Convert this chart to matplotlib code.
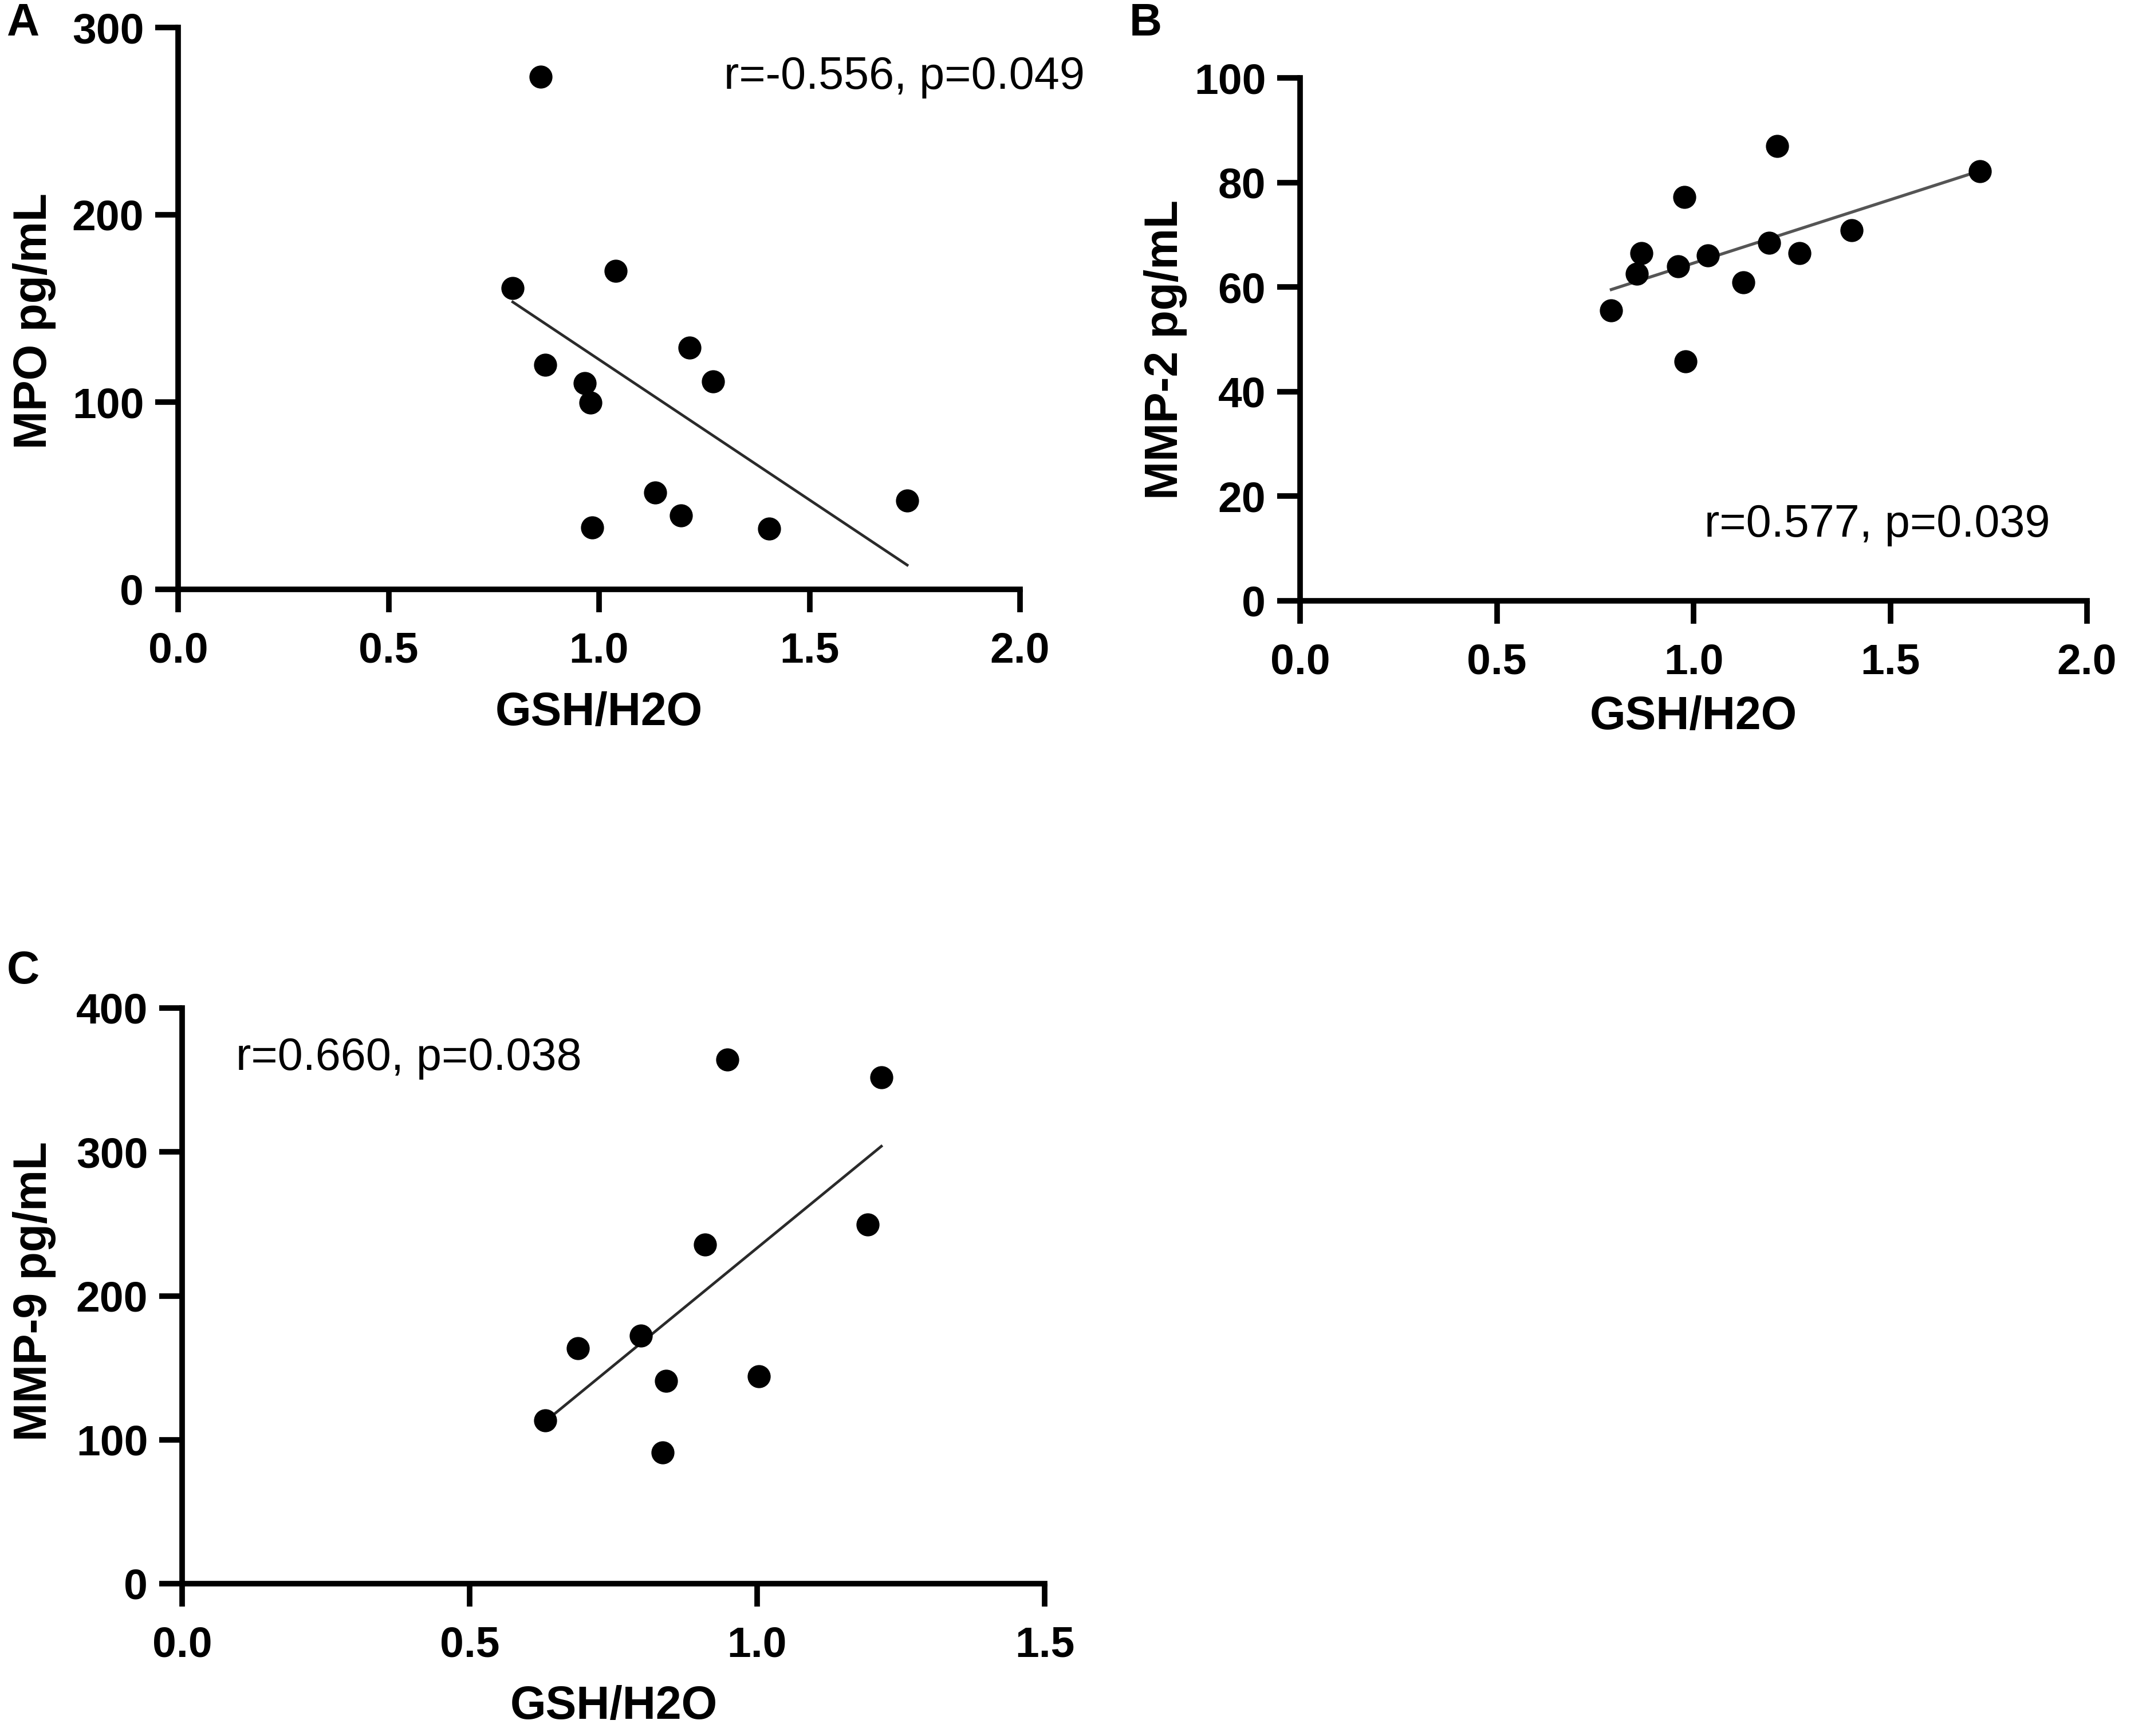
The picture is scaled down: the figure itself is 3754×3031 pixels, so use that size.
import numpy as np
import matplotlib
matplotlib.use("Agg")
import matplotlib.pyplot as plt

plt.rcParams['font.family'] = ['Liberation Sans', 'DejaVu Sans']

# Panel A: MPO vs GSH/H2O
a_x = [0.861, 0.795, 1.040, 0.872, 1.215, 1.271, 0.966, 0.979, 1.133, 1.195, 0.983, 1.404, 1.732]
a_y = [273.8, 161.0, 170.0, 120.0, 129.0, 111.0, 110.0, 99.7, 51.6, 39.4, 33.0, 32.3, 47.5]
# Panel B: MMP-2 vs GSH/H2O
b_x = [0.791, 0.856, 0.868, 0.960, 0.977, 0.980, 1.037, 1.126, 1.192, 1.212, 1.269, 1.402, 1.728]
b_y = [55.5, 62.5, 66.5, 64.0, 77.2, 45.8, 66.1, 60.9, 68.5, 87.0, 66.5, 70.9, 82.1]
# Panel C: MMP-9 vs GSH/H2O
c_x = [0.631, 0.688, 0.798, 0.842, 0.836, 0.909, 0.948, 1.003, 1.192, 1.216]
c_y = [113.5, 163.6, 172.3, 140.7, 91.0, 235.7, 364.1, 144.0, 249.5, 351.8]

a_xticks = [0.0, 0.5, 1.0, 1.5, 2.0]
a_yticks = [0, 100, 200, 300]
b_xticks = [0.0, 0.5, 1.0, 1.5, 2.0]
b_yticks = [0, 20, 40, 60, 80, 100]
c_xticks = [0.0, 0.5, 1.0, 1.5]
c_yticks = [0, 100, 200, 300, 400]

xlabel = "GSH/H2O"
a_ylabel = "MPO pg/mL"
b_ylabel = "MMP-2 pg/mL"
c_ylabel = "MMP-9 pg/mL"
a_text = "r=-0.556, p=0.049"
b_text = "r=0.577, p=0.039"
c_text = "r=0.660, p=0.038"

W, H = 3754, 3031
fig = plt.figure(figsize=(W / 100, H / 100), dpi=100)

def fx(px):
    return px / W

def fy(py):
    return 1 - py / H

def make_ax(l, r, b, t):
    return fig.add_axes([fx(l), fy(b), fx(r) - fx(l), fy(t) - fy(b)])

TICK_FS = 54
LAB_FS = 58
ANN_FS = 57
PANEL_FS = 57

def style(ax, xt, yt):
    for s in ['top', 'right']:
        ax.spines[s].set_visible(False)
    for s in ['left', 'bottom']:
        ax.spines[s].set_linewidth(7)
        ax.spines[s].set_color('black')
        ax.spines[s].set_capstyle('projecting')
    ax.set_xticks(xt)
    ax.set_yticks(yt)
    ax.set_xticklabels([f"{v:.1f}" for v in xt], fontsize=TICK_FS, fontweight='bold')
    ax.set_yticklabels([f"{v:d}" for v in yt], fontsize=TICK_FS, fontweight='bold')
    ax.tick_params(axis='both', length=29, width=7, color='black')
    ax.tick_params(axis='x', pad=24)
    ax.tick_params(axis='y', pad=14)
    ax.set_xlim(xt[0], xt[-1])
    ax.set_ylim(yt[0], yt[-1])

def draw(ax, x, y, line_color, lw):
    x = np.asarray(x)
    y = np.asarray(y)
    k, c0 = np.polyfit(x, y, 1)
    xs = np.array([x.min(), x.max()])
    ax.plot(xs, k * xs + c0, color=line_color, lw=lw, zorder=2, clip_on=False)
    ax.plot(x, y, 'o', color='black', markersize=28, zorder=3, clip_on=False)

# Panel A
axA = make_ax(311, 1781, 1029, 48)
draw(axA, a_x, a_y, '#2a2a2a', 3.4)
style(axA, a_xticks, a_yticks)
fig.text(fx(1264), fy(134), a_text, fontsize=ANN_FS, ha='left', va='center')
fig.text(fx(60), fy(560), a_ylabel, fontsize=LAB_FS, fontweight='bold', rotation=90, ha='center', va='center')
fig.text(fx(1046), fy(1245), xlabel, fontsize=LAB_FS, fontweight='bold', ha='center', va='center')
fig.text(fx(40), fy(42), "A", fontsize=PANEL_FS, fontweight='bold', ha='center', va='center')

# Panel B
axB = make_ax(2270, 3644, 1049, 136)
draw(axB, b_x, b_y, '#555555', 3.8)
style(axB, b_xticks, b_yticks)
fig.text(fx(2976), fy(917), b_text, fontsize=ANN_FS, ha='left', va='center')
fig.text(fx(2035), fy(610), b_ylabel, fontsize=LAB_FS, fontweight='bold', rotation=90, ha='center', va='center')
fig.text(fx(2957), fy(1252), xlabel, fontsize=LAB_FS, fontweight='bold', ha='center', va='center')
fig.text(fx(2000), fy(42), "B", fontsize=PANEL_FS, fontweight='bold', ha='center', va='center')

# Panel C
axC = make_ax(318, 1824, 2765, 1760)
draw(axC, c_x, c_y, '#2a2a2a', 3.4)
style(axC, c_xticks, c_yticks)
fig.text(fx(412), fy(1848), c_text, fontsize=ANN_FS, ha='left', va='center')
fig.text(fx(60), fy(2255), c_ylabel, fontsize=LAB_FS, fontweight='bold', rotation=90, ha='center', va='center')
fig.text(fx(1072), fy(2980), xlabel, fontsize=LAB_FS, fontweight='bold', ha='center', va='center')
fig.text(fx(40), fy(1697), "C", fontsize=PANEL_FS, fontweight='bold', ha='center', va='center')

fig.savefig("out.png", dpi=100, facecolor='white')
